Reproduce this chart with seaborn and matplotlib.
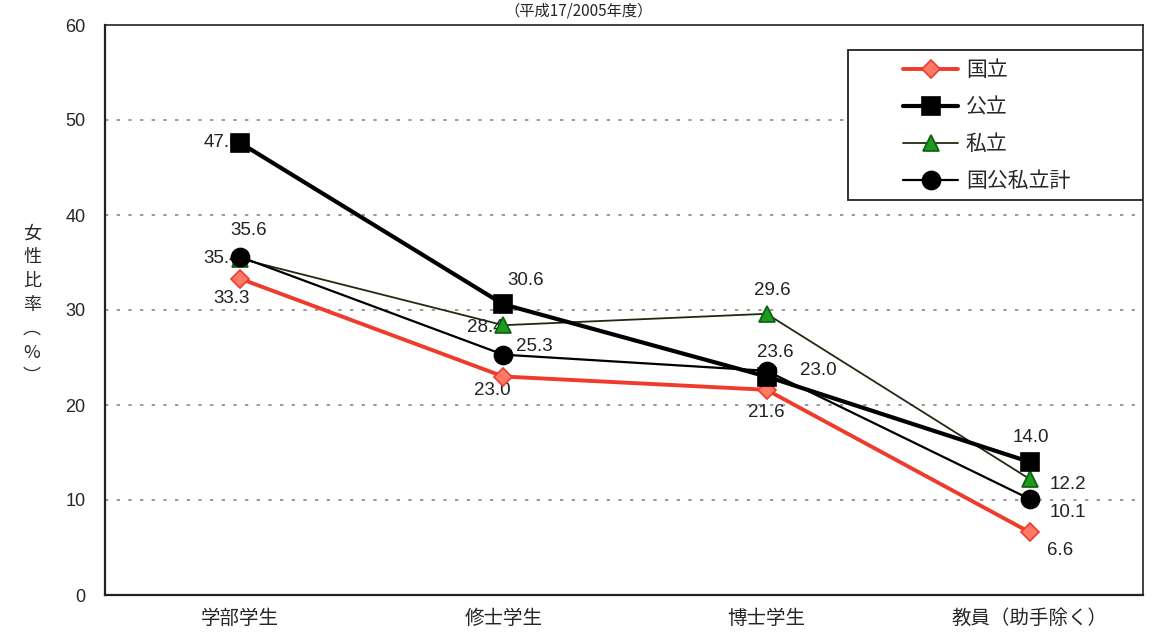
import pandas as pd
import matplotlib.pyplot as plt
from matplotlib.patches import Rectangle
import seaborn as sns

# ---------- DATA ----------
categories = ["学部学生", "修士学生", "博士学生", "教員（助手除く）"]
series_names = ["国立", "公立", "私立", "国公私立計"]
kokuritsu = [33.3, 23.0, 21.6, 6.6]
kouritsu = [47.6, 30.6, 23.0, 14.0]
shiritsu = [35.4, 28.4, 29.6, 12.2]
goukei = [35.6, 25.3, 23.6, 10.1]
y_ticks = [0, 10, 20, 30, 40, 50, 60]
title_text = "（平成17/2005年度）"
ylabel_text = "女\n性\n比\n率\n︵\n%\n︶"
# --------------------------

df = pd.DataFrame({
    "cat": categories * 4,
    "x": list(range(4)) * 4,
    "series": [s for s in series_names for _ in categories],
    "value": kokuritsu + kouritsu + shiritsu + goukei,
})

sns.set_style("white")
plt.rcParams["font.family"] = ["Noto Sans CJK JP", "DejaVu Sans"]
NUM_FONT = ["Liberation Sans", "DejaVu Sans"]

fig = plt.figure(figsize=(11.57, 6.44), dpi=100)
ax = fig.add_axes([105 / 1157, 49 / 644, 1038 / 1157, 570 / 644])

styles = {
    "国立": dict(color="#ee3b2b", lw=2.8, marker="D", ms=9, mfc="#ff7a66", mec="#ee3b2b", zorder=3),
    "公立": dict(color="black", lw=3.0, marker="s", ms=13, mfc="black", mec="black", zorder=6),
    "私立": dict(color="#1f2a12", lw=1.3, marker="^", ms=12, mfc="#1e9a1e", mec="#0d5e0d", zorder=4),
    "国公私立計": dict(color="black", lw=1.6, marker="o", ms=13, mfc="black", mec="black", zorder=5),
}

for name in series_names:
    st = styles[name]
    sub = df[df["series"] == name]
    sns.lineplot(data=sub, x="x", y="value", ax=ax, color=st["color"], lw=st["lw"],
                 marker=st["marker"], markersize=st["ms"], markerfacecolor=st["mfc"],
                 markeredgecolor=st["mec"], markeredgewidth=1.2, label=name,
                 zorder=st["zorder"], errorbar=None)

# data labels: offsets in points + alignment, one per point
label_specs = [
    (kokuritsu, [(-6, -14, "center"), (-8, -10, "center"),
                 (0, -16, "center"), (22, -13, "center")]),
    (kouritsu, [(0, 0, "right"), (16, 17, "center"),
                (24, 4, "left"), (1, 18, "center")]),
    (shiritsu, [(0, 0, "right"), (0, -2, "right"),
                (4, 17, "center"), (14, -4, "left")]),
    (goukei, [(6, 19, "center"), (9, 6, "left"),
              (6, 13, "center"), (14, -10, "left")]),
]
for vals, specs in label_specs:
    for i, (v, (dx, dy, ha)) in enumerate(zip(vals, specs)):
        ax.annotate(f"{v:.1f}", (i, v), xytext=(dx, dy), textcoords="offset points",
                    ha=ha, va="center", fontsize=13.5, color="#222222", zorder=2,
                    family=NUM_FONT)

ax.set_xlim(-0.513, 3.43)
ax.set_ylim(0, 60)
ax.set_xticks(range(4))
ax.set_xticklabels(categories, fontsize=14)
ax.set_xticks([0.5, 1.5, 2.5], minor=True)
ax.tick_params(axis="x", which="major", length=0, pad=9)
ax.tick_params(axis="x", which="minor", direction="in", length=6, width=1, color="black")
ax.set_yticks(y_ticks)
ax.set_yticklabels([str(t) for t in y_ticks], fontsize=13, family=NUM_FONT)
ax.tick_params(axis="y", length=0, pad=14)
ax.set_xlabel("")
ax.set_ylabel("")
for t in y_ticks[1:-1]:
    ax.axhline(t, color="#888888", lw=1.2, ls=(0, (2, 5)), zorder=1)

for side in ["left", "bottom", "top", "right"]:
    ax.spines[side].set_visible(True)
    ax.spines[side].set_color("#222222")
ax.spines["left"].set_linewidth(1.6)
ax.spines["bottom"].set_linewidth(1.6)
ax.spines["top"].set_linewidth(1.2)
ax.spines["right"].set_linewidth(1.2)

fig.text(32 / 1157, 1 - 305 / 644, ylabel_text, ha="center", va="center", fontsize=13,
         linespacing=1.42)
fig.text(0.5, 1 - 2 / 644, title_text, ha="center", va="top", fontsize=11)

# legend box drawn as a patch so entries can sit inset like the original
box = Rectangle((0.716, 0.693), 0.284, 0.263, transform=ax.transAxes,
                facecolor="white", edgecolor="#222222", lw=1.3, zorder=9)
ax.add_patch(box)
leg = ax.legend(loc="upper left", bbox_to_anchor=(0.769, 0.94), fontsize=15,
                frameon=False, borderpad=0, labelspacing=0.72, handlelength=2.65,
                handletextpad=0.35, borderaxespad=0)
leg.set_zorder(10)

fig.savefig("out.png", dpi=100)
